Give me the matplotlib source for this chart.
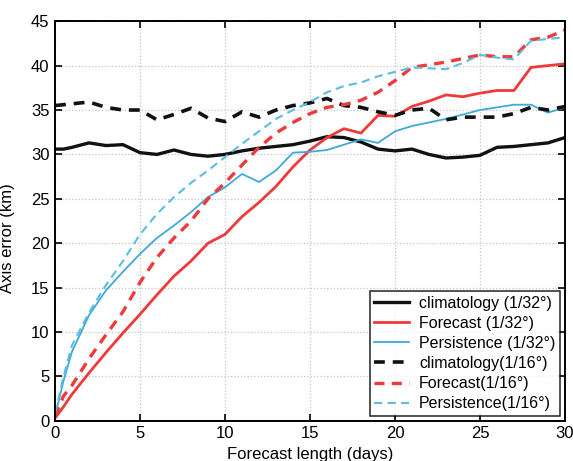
import matplotlib
matplotlib.use("Agg")
import matplotlib.pyplot as plt

plt.rcParams['font.family'] = ['Liberation Sans', 'DejaVu Sans']

# dias de pronostico
dias = [0, 0.5] + list(range(1, 31))

clim_32 = [30.6, 30.6, 30.8, 31.3, 31.0, 31.1, 30.2, 30.0, 30.5, 30.0, 29.8, 30.0,
           30.4, 30.7, 30.9, 31.1, 31.5, 32.0, 31.9, 31.4, 30.6, 30.4, 30.6, 30.0,
           29.6, 29.7, 29.9, 30.8, 30.9, 31.1, 31.3, 31.9]
fc_32 = [0.3, 1.6, 3.0, 5.4, 7.7, 9.9, 12.0, 14.2, 16.3, 18.0, 20.0, 21.0,
         23.0, 24.6, 26.4, 28.6, 30.5, 31.9, 32.9, 32.4, 34.4, 34.3, 35.4, 36.0,
         36.7, 36.5, 36.9, 37.2, 37.2, 39.8, 40.0, 40.2]
pers_32 = [0.5, 4.5, 7.8, 11.9, 14.7, 16.8, 18.8, 20.6, 22.0, 23.5, 25.2, 26.3,
           27.8, 26.9, 28.2, 30.2, 30.3, 30.5, 31.1, 31.7, 31.3, 32.6, 33.2, 33.6,
           34.0, 34.5, 35.0, 35.3, 35.6, 35.6, 34.7, 35.3]
clim_16 = [35.5, 35.6, 35.7, 35.9, 35.3, 35.0, 35.0, 33.9, 34.5, 35.2, 34.1, 33.7,
           34.8, 34.2, 35.0, 35.5, 35.8, 36.3, 35.5, 35.3, 34.8, 34.4, 35.0, 35.2,
           33.9, 34.2, 34.2, 34.2, 34.6, 35.3, 35.0, 35.4]
fc_16 = [0.5, 2.8, 4.0, 7.0, 9.7, 12.3, 15.6, 18.4, 20.6, 22.5, 25.0, 26.8,
         28.8, 30.8, 32.4, 33.6, 34.6, 35.3, 35.6, 36.1, 37.0, 38.3, 39.8, 40.1,
         40.4, 40.8, 41.2, 41.0, 41.0, 42.9, 43.2, 44.0]
pers_16 = [0.8, 5.0, 8.5, 12.2, 15.3, 18.0, 21.0, 23.3, 25.2, 26.8, 28.2, 29.7,
           31.2, 32.6, 34.0, 35.0, 35.9, 37.0, 37.7, 38.1, 38.8, 39.3, 39.8, 39.7,
           39.6, 40.3, 41.2, 40.9, 40.7, 42.8, 43.0, 43.2]

etiquetas = ['climatology (1/32\u00b0)', 'Forecast (1/32\u00b0)', 'Persistence (1/32\u00b0)',
             'climatology(1/16\u00b0)', 'Forecast(1/16\u00b0)', 'Persistence(1/16\u00b0)']

fig = plt.figure(figsize=(5.73, 4.61), dpi=100)
ax = fig.add_axes([0.096, 0.087, 0.890, 0.867])

ax.plot(dias, clim_32, color='#111111', lw=2.4, label=etiquetas[0])
ax.plot(dias, fc_32, color='#f03a3a', lw=2.0, label=etiquetas[1])
ax.plot(dias, pers_32, color='#3fa9d8', lw=1.3, label=etiquetas[2])
ax.plot(dias, clim_16, color='#111111', lw=2.6, ls=(0, (3, 2.2)), label=etiquetas[3])
ax.plot(dias, fc_16, color='#f03a3a', lw=2.4, ls=(0, (3, 2.2)), label=etiquetas[4])
ax.plot(dias, pers_16, color='#5bbde3', lw=1.5, ls=(0, (4, 2.5)), label=etiquetas[5])

ax.set_xlim(0, 30)
ax.set_ylim(0, 45)
ax.set_xticks(range(0, 31, 5))
ax.set_yticks(range(0, 46, 5))
ax.tick_params(direction='in', top=True, right=True, length=5, width=1.2,
               labelsize=12, pad=4)
for s in ax.spines.values():
    s.set_linewidth(1.4)
ax.grid(True, ls=':', color='#c4c4c4', lw=0.9)

ax.set_xlabel('Forecast length (days)', fontsize=12, labelpad=4)
ax.set_ylabel('Axis error (km)', fontsize=12)
ax.yaxis.set_label_coords(-0.078, 0.457)

leg = ax.legend(loc='lower right', fontsize=11.5, frameon=True, fancybox=False,
                edgecolor='black', handlelength=2.2, borderpad=0.3,
                labelspacing=0.32, borderaxespad=0.3, handletextpad=0.6)
leg.get_frame().set_linewidth(1.2)

fig.savefig('out.png', dpi=100)
